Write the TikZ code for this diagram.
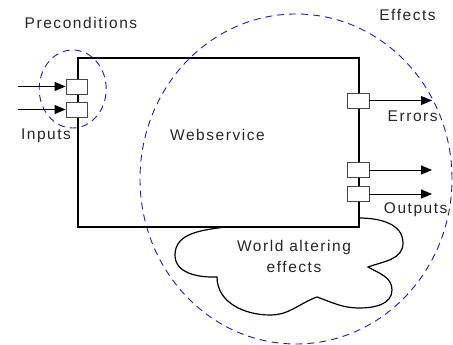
\documentclass[tikz,border=0pt]{standalone}
\usepackage{fontspec}
\setmainfont{Liberation Sans}[LetterSpace=10]
\usetikzlibrary{arrows.meta}
\definecolor{dashblue}{RGB}{30,30,170}
\definecolor{portgray}{RGB}{70,70,70}
\begin{document}
\begin{tikzpicture}[x=1pt,y=1pt,
  lbl/.style={font=\fontsize{15.5}{21}\selectfont, inner sep=0pt, text=black!85},
  port/.style={draw=portgray, fill=white, line width=0.9pt, minimum height=15pt, inner sep=0pt},
  flow/.style={line width=0.9pt, -{Triangle[length=11pt,width=9pt]}},
  region/.style={draw=dashblue, line width=0.9pt, dash pattern=on 7pt off 5pt}]
\useasboundingbox (0,0) rectangle (453,345);
% dashed regions
\draw[region] (72.7,256) ellipse [x radius=33.5, y radius=39];
\draw[region] (296,166) ellipse [x radius=156, y radius=165];
% webservice box
\coordinate (tl) at (78,287);
\coordinate (br) at (359,118);
\draw[line width=1.2pt] (tl) rectangle (br);
% cloud
\coordinate (c0) at (359,127);
\coordinate (c9) at (225,118);
\draw[line width=1.2pt] (c0) to[out=0,in=90] (403,102) to[out=-90,in=20] (368,78)
  to[out=-30,in=90] (392,55) to[out=-90,in=0] (360,37) to[out=180,in=-20] (317,48)
  to[out=-160,in=0] (270,30) to[out=180,in=-90] (217,68) to[out=182,in=-90] (175,90)
  to[out=90,in=188] (c9);
% ports
\node[port, minimum width=21pt] (in1) at (76.5,258.5) {};
\node[port, minimum width=21pt] (in2) at (76.5,235.5) {};
\node[port, minimum width=22pt] (out1) at (358,244.5) {};
\node[port, minimum width=22pt] (out2) at (358,175) {};
\node[port, minimum width=22pt] (out3) at (358,151) {};
\coordinate (s1) at (18,258.5);
\coordinate (s2) at (18,235.5);
\coordinate (e1) at (432,244.5);
\coordinate (e2) at (432,175);
\coordinate (e3) at (432,151);
\draw[flow] (s1) -- (in1.west);
\draw[flow] (s2) -- (in2.west);
\draw[flow] (out1.east) -- (e1);
\draw[flow] (out2.east) -- (e2);
\draw[flow] (out3.east) -- (e3);
% labels
\node[lbl, anchor=base] (pre) at (81,316) {Preconditions};
\node[lbl, anchor=base] (eff) at (407.5,324.3) {Effects};
\node[lbl, anchor=base] (ws) at (217.5,204.3) {Webservice};
\node[lbl, anchor=base] (inp) at (46,205) {Inputs};
\node[lbl, anchor=base] (err) at (412.7,223) {Errors};
\node[lbl, anchor=base] (outp) at (415.7,131) {Outputs};
\node[lbl, align=center] (wae) at (294,89) {World altering\\effects};
\end{tikzpicture}
\end{document}
